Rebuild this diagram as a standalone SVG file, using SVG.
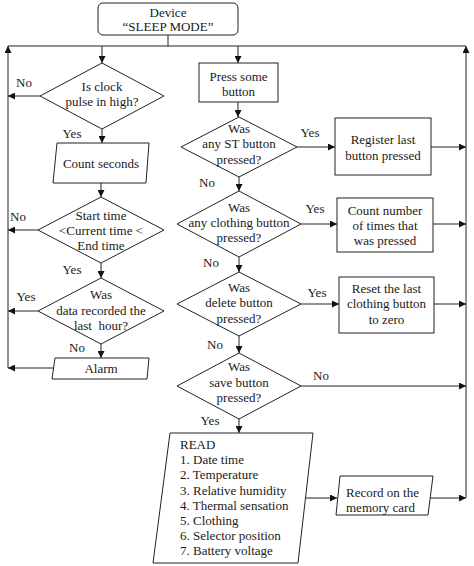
<svg xmlns="http://www.w3.org/2000/svg" width="474" height="566" viewBox="0 0 474 566" font-family="'Liberation Serif', Tinos, 'Times New Roman', Times, serif" font-size="13">
<defs>
<marker id="ah" viewBox="0 0 10 10" refX="10" refY="5" markerUnits="userSpaceOnUse" markerWidth="8" markerHeight="7" orient="auto">
<path d="M0,0 L10,5 L0,10 Z" fill="#111"/>
</marker>
<style>
.s{fill:#fff;stroke:#222;stroke-width:1}
.c path{fill:none;stroke:#222;stroke-width:1}
.c .a{marker-end:url(#ah)}
text{fill:#1a1a1a}
.m{text-anchor:middle}
</style>
</defs>
<rect width="474" height="566" fill="#fff"/>
<g class="c" id="connectors">
<path d="M168,35 V46"/>
<path d="M8,46 H466"/>
<path class="a" d="M102,46 V63"/>
<path class="a" d="M238,46 V63"/>
<path class="a" d="M40,96 H8"/>
<path class="a" d="M102,129 V143"/>
<path class="a" d="M101,183 V197"/>
<path class="a" d="M38,230 H8"/>
<path class="a" d="M101,263 V278"/>
<path class="a" d="M38,311 H8"/>
<path class="a" d="M101,344 V358"/>
<path class="a" d="M53,368 H8"/>
<path class="a" d="M8,368 V46"/>
<path class="a" d="M238,102 V117"/>
<path class="a" d="M297,147 H335"/>
<path class="a" d="M431,147 H466"/>
<path class="a" d="M239,177 V191"/>
<path class="a" d="M301,224 H337"/>
<path class="a" d="M433,224 H466"/>
<path class="a" d="M239,257 V272"/>
<path class="a" d="M301,304 H339"/>
<path class="a" d="M434,304 H466"/>
<path class="a" d="M239,336 V353"/>
<path class="a" d="M301,386 H466"/>
<path class="a" d="M239,419 V433"/>
<path class="a" d="M306,498 H337"/>
<path class="a" d="M430,498 H466"/>
<path class="a" d="M466,498 V46"/>
</g>
<g id="sleep">
<rect class="s" x="98" y="3" width="140" height="32" rx="5"/>
<text class="m" x="168" y="17">Device</text>
<text class="m" x="168" y="31">“SLEEP MODE”</text>
</g>
<g id="clock">
<polygon class="s" points="102,63 164,96 102,129 40,96"/>
<text class="m" x="102" y="91">Is clock</text>
<text class="m" x="102" y="106">pulse in high?</text>
</g>
<g id="count">
<polygon class="s" points="57,143 149,143 146,183 53,183"/>
<text class="m" x="101" y="168">Count seconds</text>
</g>
<g id="timecheck">
<polygon class="s" points="101,197 164,230 101,263 38,230"/>
<text class="m" x="101" y="220">Start time</text>
<text class="m" x="101" y="235">&lt;Current time &lt;</text>
<text class="m" x="101" y="250">End time</text>
</g>
<g id="recorded">
<polygon class="s" points="101,278 164,311 101,344 38,311"/>
<text class="m" x="101" y="299">Was</text>
<text class="m" x="101" y="315">data recorded the</text>
<text class="m" x="101" y="330" xml:space="preserve">last  hour?</text>
</g>
<g id="alarm">
<polygon class="s" points="55,358 149,358 147,379 52,379"/>
<text class="m" x="101" y="373">Alarm</text>
</g>
<g id="press">
<rect class="s" x="199" y="63" width="79" height="39"/>
<text class="m" x="238.5" y="81">Press some</text>
<text class="m" x="238.5" y="96">button</text>
</g>
<g id="st">
<polygon class="s" points="239,117 297,147 239,177 181,147"/>
<text class="m" x="239" y="133">Was</text>
<text class="m" x="239" y="148">any ST button</text>
<text class="m" x="239" y="164">pressed?</text>
</g>
<g id="register">
<rect class="s" x="335" y="118" width="96" height="57"/>
<text class="m" x="383" y="144">Register last</text>
<text class="m" x="383" y="160">button pressed</text>
</g>
<g id="clothing">
<polygon class="s" points="239,191 301,224 239,257 177,224"/>
<text class="m" x="239" y="212">Was</text>
<text class="m" x="239" y="227">any clothing button</text>
<text class="m" x="239" y="242">pressed?</text>
</g>
<g id="countnum">
<rect class="s" x="337" y="198" width="96" height="54"/>
<text class="m" x="385" y="215">Count number</text>
<text class="m" x="385" y="230">of times that</text>
<text class="m" x="385" y="245">was pressed</text>
</g>
<g id="delete">
<polygon class="s" points="239,272 301,304 239,336 177,304"/>
<text class="m" x="239" y="292">Was</text>
<text class="m" x="239" y="307">delete button</text>
<text class="m" x="239" y="323">pressed?</text>
</g>
<g id="reset">
<rect class="s" x="339" y="277" width="95" height="56"/>
<text class="m" x="386.5" y="293">Reset the last</text>
<text class="m" x="386.5" y="308">clothing button</text>
<text class="m" x="386.5" y="324">to zero</text>
</g>
<g id="save">
<polygon class="s" points="239,353 301,386 239,419 177,386"/>
<text class="m" x="239" y="371">Was</text>
<text class="m" x="239" y="387">save button</text>
<text class="m" x="239" y="402">pressed?</text>
</g>
<g id="read">
<polygon class="s" points="170,433 313,433 298,563 153,563"/>
<text x="180" y="449">READ</text>
<text x="180" y="464">1. Date time</text>
<text x="180" y="479">2. Temperature</text>
<text x="180" y="495">3. Relative humidity</text>
<text x="180" y="510">4. Thermal sensation</text>
<text x="180" y="525">5. Clothing</text>
<text x="180" y="540">6. Selector position</text>
<text x="180" y="555">7. Battery voltage</text>
</g>
<g id="record">
<polygon class="s" points="340,476 433,476 428,515 336,515"/>
<text x="346" y="497">Record on the</text>
<text x="346" y="512">memory card</text>
</g>
<g id="labels">
<text class="m" x="24" y="87">No</text>
<text class="m" x="72" y="138">Yes</text>
<text class="m" x="18" y="221">No</text>
<text class="m" x="72" y="274">Yes</text>
<text class="m" x="26" y="301">Yes</text>
<text class="m" x="77" y="352">No</text>
<text class="m" x="310" y="137">Yes</text>
<text class="m" x="207" y="187">No</text>
<text class="m" x="315" y="213">Yes</text>
<text class="m" x="211" y="267">No</text>
<text class="m" x="317" y="297">Yes</text>
<text class="m" x="215" y="349">No</text>
<text class="m" x="321" y="380">No</text>
<text class="m" x="210" y="425">Yes</text>
</g>
</svg>
